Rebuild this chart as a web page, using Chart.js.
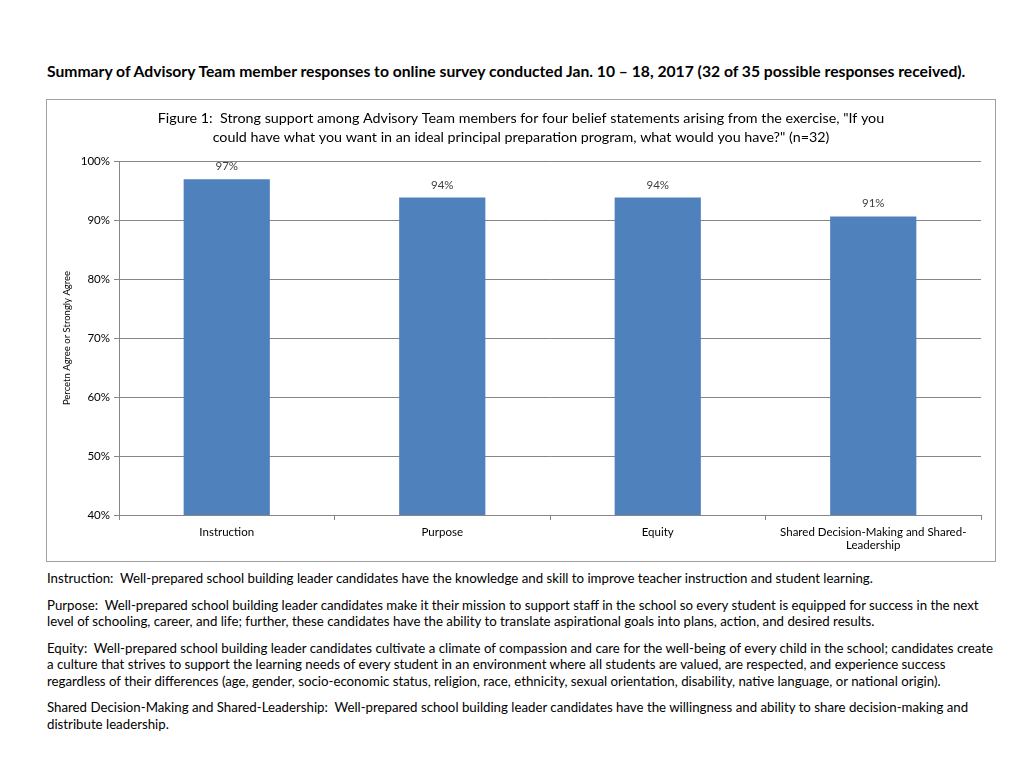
<!DOCTYPE html>
<html>
<head>
<meta charset="utf-8">
<script src="https://cdn.jsdelivr.net/npm/chart.js@4.4.0/dist/chart.umd.min.js"></script>
<style>
  body { margin: 0; background: #fff; font-family: Lato, "Liberation Sans", sans-serif; color: #000; }
  #page { position: relative; width: 1024px; height: 768px; }
  #heading { position: absolute; left: 47px; top: 62px; font-size: 15.7px; font-weight: bold; white-space: nowrap; }
  #box { position: absolute; left: 46px; top: 99px; width: 948px; height: 461px; border: 1px solid #a0a0a0; }
  #notes { position: absolute; left: 47px; top: 570px; font-size: 13.25px; line-height: 16.5px; white-space: nowrap; }
  #notes p { margin: 0 0 10px 0; }
</style>
</head>
<body>
<div id="page">
  <div id="heading">Summary of Advisory Team member responses to online survey conducted Jan. 10 – 18, 2017 (32 of 35 possible responses received).</div>
  <div id="box"><canvas id="chartSupport" width="948" height="461"></canvas></div>
  <div id="notes">
    <p>Instruction:&nbsp; Well-prepared school building leader candidates have the knowledge and skill to improve teacher instruction and student learning.</p>
    <p>Purpose:&nbsp; Well-prepared school building leader candidates make it their mission to support staff in the school so every student is equipped for success in the next<br>level of schooling, career, and life; further, these candidates have the ability to translate aspirational goals into plans, action, and desired results.</p>
    <p>Equity:&nbsp; Well-prepared school building leader candidates cultivate a climate of compassion and care for the well-being of every child in the school; candidates create<br>a culture that strives to support the learning needs of every student in an environment where all students are valued, are respected, and experience success<br>regardless of their differences (age, gender, socio-economic status, religion, race, ethnicity, sexual orientation, disability, native language, or national origin).</p>
    <p>Shared Decision-Making and Shared-Leadership:&nbsp; Well-prepared school building leader candidates have the willingness and ability to share decision-making and<br>distribute leadership.</p>
  </div>
</div>
<script>
var categories = ['Instruction', 'Purpose', 'Equity', ['Shared Decision-Making and Shared-', 'Leadership']];
var agreeValues = [96.9, 93.8, 93.8, 90.6];
var yTicks = [40, 50, 60, 70, 80, 90, 100];

// labels above each bar
var barLabels = {
    id: 'barLabels',
    afterDatasetsDraw: function (chart) {
        var ctx = chart.ctx;
        var meta = chart.getDatasetMeta(0);
        ctx.save();
        ctx.font = '11.5px Lato, "Liberation Sans", sans-serif';
        ctx.fillStyle = '#404040';
        ctx.textAlign = 'center';
        ctx.textBaseline = 'bottom';
        meta.data.forEach(function (bar, i) {
            ctx.fillText(Math.round(agreeValues[i]) + '%', bar.x, bar.y - 7);
        });
        ctx.restore();
    }
};

var ctx = document.getElementById('chartSupport').getContext('2d');
var chart = new Chart(ctx, {
    type: 'bar',
    data: {
        labels: categories,
        datasets: [{
            data: agreeValues,
            backgroundColor: '#4f81bd',
            borderWidth: 0,
            categoryPercentage: 1,
            barPercentage: 0.4
        }]
    },
    plugins: [barLabels],
    options: {
        responsive: false,
        animation: false,
        layout: { padding: { left: 14, right: 14, top: 0, bottom: 0 } },
        plugins: {
            legend: { display: false },
            tooltip: { enabled: false },
            title: {
                display: true,
                text: ['Figure 1:  Strong support among Advisory Team members for four belief statements arising from the exercise, "If you',
                       'could have what you want in an ideal principal preparation program, what would you have?" (n=32)'],
                color: '#000',
                font: { family: 'Lato, "Liberation Sans", sans-serif', size: 14.3, weight: 'normal', lineHeight: 1.33 },
                padding: { top: 9, bottom: 14 }
            }
        },
        scales: {
            x: {
                grid: { display: true, drawOnChartArea: false, offset: true, tickLength: 5, color: '#868686' },
                border: { color: '#868686' },
                ticks: { color: '#000', font: { family: 'Lato, "Liberation Sans", sans-serif', size: 11.5 }, maxRotation: 0, padding: 5 },
                afterFit: function (scale) { scale.height = 46; }
            },
            y: {
                min: 40,
                max: 100,
                afterBuildTicks: function (scale) {
                    scale.ticks = yTicks.map(function (v) { return { value: v }; });
                },
                grid: { color: '#868686', tickLength: 5 },
                border: { color: '#868686' },
                ticks: {
                    color: '#000',
                    font: { family: 'Lato, "Liberation Sans", sans-serif', size: 11.5 },
                    padding: 4,
                    callback: function (v) { return v + '%'; }
                },
                title: {
                    display: true,
                    text: 'Percetn Agree or Strongly Agree',
                    color: '#000',
                    font: { family: 'Lato, "Liberation Sans", sans-serif', size: 9.5 },
                    padding: { top: 0, bottom: 6 }
                },
                afterFit: function (scale) { scale.width = 58; }
            }
        }
    }
});
</script>
</body>
</html>
